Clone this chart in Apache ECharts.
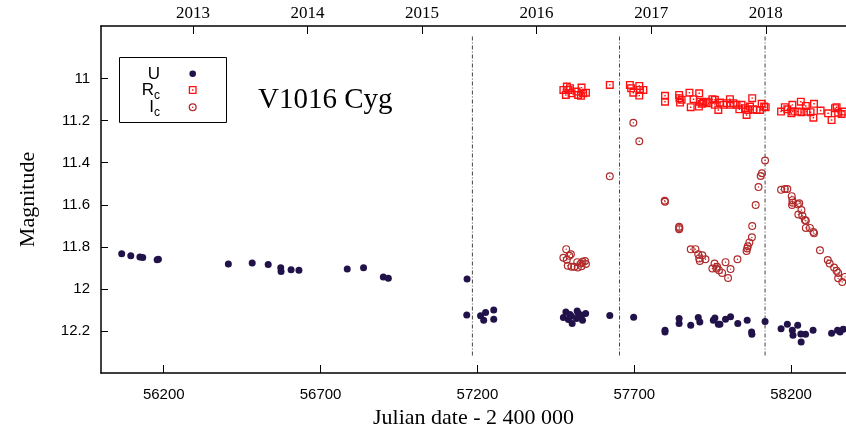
<!DOCTYPE html>
<html>
<head>
<meta charset="utf-8">
<script src="https://cdn.jsdelivr.net/npm/echarts@6/dist/echarts.min.js"></script>
<style>
html,body{margin:0;padding:0;background:#fff;}
#chart{width:846px;height:431px;}
</style>
</head>
<body>
<div id="chart"></div>
<script>
// ---- data (JD - 2400000, magnitude) ----
const uData = [
  [56066,11.833],[56095,11.843],[56124,11.849],[56133,11.851],[56179,11.862],[56183,11.859],
  [56406,11.882],[56482,11.877],[56533,11.884],[56573,11.900],[56574,11.917],[56606,11.909],[56631,11.912],
  [56785,11.906],[56837,11.900],[56900,11.943],[56916,11.950],[57167,11.953],
  [57166,12.124],[57210,12.128],[57226,12.112],[57220,12.149],[57252,12.101],[57252,12.144],
  [57474,12.136],[57482,12.110],[57490,12.146],[57495,12.122],[57500,12.130],[57502,12.165],[57516,12.141],
  [57518,12.105],[57522,12.117],[57532,12.125],[57535,12.149],[57545,12.117],[57622,12.127],[57698,12.135],
  [57798,12.197],[57798,12.205],[57843,12.141],[57843,12.165],[57880,12.173],[57904,12.136],[57909,12.157],
  [57952,12.149],[57957,12.138],[57968,12.168],[57973,12.168],[57991,12.144],[58007,12.133],[58030,12.165],
  [58060,12.149],[58074,12.205],[58075,12.216],[58117,12.155],[58168,12.190],[58188,12.168],[58204,12.197],
  [58206,12.220],[58221,12.173],[58231,12.214],[58232,12.252],[58246,12.216],[58270,12.197],[58329,12.211],
  [58348,12.197],[58356,12.205],[58366,12.192]
];
const rcData = [
  [57474,11.054],[57485,11.038],[57490,11.054],[57482,11.078],[57495,11.046],[57500,11.070],[57516,11.062],
  [57521,11.078],[57532,11.043],[57537,11.070],[57546,11.067],[57530,11.082],
  [57622,11.030],
  [57686,11.030],[57690,11.046],[57697,11.067],[57716,11.035],[57718,11.054],[57716,11.081],[57729,11.054],
  [57798,11.082],[57798,11.110],[57843,11.078],[57844,11.093],[57846,11.114],[57851,11.101],[57876,11.067],
  [57880,11.136],[57889,11.098],[57907,11.070],[57906,11.133],[57909,11.110],[57915,11.120],[57920,11.114],
  [57931,11.110],[57936,11.117],[57949,11.098],[57957,11.101],[57957,11.125],[57968,11.149],[57973,11.114],
  [57984,11.125],[57995,11.117],[58005,11.098],[58007,11.125],[58016,11.117],[58026,11.125],[58035,11.146],
  [58042,11.125],[58053,11.141],[58058,11.173],[58063,11.149],[58069,11.133],[58076,11.093],[58079,11.146],
  [58090,11.149],[58101,11.149],[58106,11.120],[58114,11.133],[58119,11.136],
  [58168,11.157],[58180,11.136],[58188,11.146],[58204,11.125],[58205,11.157],[58201,11.165],[58221,11.157],
  [58231,11.110],[58233,11.160],[58247,11.130],[58249,11.157],[58262,11.160],[58271,11.186],[58273,11.120],
  [58294,11.152],[58318,11.165],[58329,11.197],[58340,11.141],[58345,11.136],[58350,11.162],[58361,11.168],
  [58366,11.157]
];
const icData = [
  [57483,11.811],[57498,11.835],[57493,11.843],[57474,11.852],[57485,11.862],[57488,11.890],[57500,11.895],
  [57509,11.895],[57518,11.873],[57520,11.898],[57532,11.892],[57535,11.871],[57543,11.868],[57546,11.882],
  [57530,11.879],
  [57622,11.465],[57697,11.210],[57716,11.298],
  [57797,11.581],[57798,11.586],[57843,11.705],[57843,11.716],[57844,11.710],
  [57880,11.812],[57895,11.811],[57904,11.835],[57907,11.855],[57909,11.867],[57917,11.840],[57927,11.859],
  [57949,11.903],[57956,11.879],[57962,11.903],[57964,11.895],[57970,11.911],[57980,11.924],[57991,11.873],
  [57999,11.948],[58007,11.906],[58029,11.859],[58058,11.820],[58060,11.808],[58062,11.797],[58067,11.779],
  [58075,11.755],[58076,11.701],[58087,11.601],[58096,11.516],[58103,11.463],[58107,11.450],[58117,11.390],
  [58168,11.529],[58180,11.525],[58188,11.525],[58202,11.559],[58204,11.578],[58205,11.590],[58203,11.601],
  [58221,11.598],[58226,11.593],[58223,11.646],[58233,11.625],[58236,11.652],[58244,11.673],[58247,11.676],
  [58247,11.710],[58260,11.710],[58271,11.729],[58273,11.736],[58292,11.816],[58317,11.863],[58323,11.879],
  [58337,11.898],[58345,11.914],[58350,11.924],[58350,11.950],[58363,11.967],[58372,11.943]
];
const dividerJD = [57184, 57653, 58117];
const xTicks = [56200, 56700, 57200, 57700, 58200];
const yearLabels = ['2013','2014','2015','2016','2017','2018'];
const yearJD = [56293.5, 56658.5, 57023.5, 57388.5, 57754.5, 58119.5];
const yTicks = [11, 11.2, 11.4, 11.6, 11.8, 12, 12.2];

// ---- styles ----
const colU = '#22124a', colR = '#ff1010', colI = '#b02a2a';
const sqRing = 'path://M0,0L10,0L10,10L0,10Z M1.7,1.7L1.7,8.3L8.3,8.3L8.3,1.7Z M4.1,4.1L5.9,4.1L5.9,5.9L4.1,5.9Z';
const ciRing = 'path://M5,0A5,5,0,1,1,5,10A5,5,0,1,1,5,0Z M5,1.5A3.5,3.5,0,1,0,5,8.5A3.5,3.5,0,1,0,5,1.5Z M5,4.1A0.9,0.9,0,1,1,5,5.9A0.9,0.9,0,1,1,5,4.1Z';
const serif = 'Liberation Serif', sans = 'Liberation Sans';
const XMIN = 56000, XMAX = 58375, YMIN = 10.75, YMAX = 12.4;

const chart = echarts.init(document.getElementById('chart'), null, {renderer: 'canvas'});

const dividerSeries = dividerJD.map(jd => ({
  type: 'line', xAxisIndex: 0, yAxisIndex: 0, silent: true, symbol: 'none',
  data: [[jd, 10.80], [jd, 12.32]],
  lineStyle: {color: '#444', width: 1, type: [4, 2, 1, 2]}, z: 1
}));

const option = {
  animation: false,
  backgroundColor: '#fff',
  grid: {left: 101, right: 0, top: 26, bottom: 58, containLabel: false, outerBoundsMode: 'none'},
  xAxis: [{
    type: 'value', position: 'bottom', min: XMIN, max: XMAX,
    axisLine: {show: true, onZero: false, lineStyle: {color: '#000', width: 1.5}},
    axisTick: {show: true, inside: true, length: 8, customValues: xTicks, lineStyle: {color: '#000', width: 1}},
    axisLabel: {show: true, customValues: xTicks, margin: 14, color: '#000', fontFamily: sans, fontSize: 15,
                formatter: v => String(v)},
    splitLine: {show: false},
    name: 'Julian date - 2 400 000', nameLocation: 'middle', nameGap: 33,
    nameTextStyle: {fontFamily: serif, fontSize: 22, color: '#000'}
  }, {
    type: 'value', position: 'top', min: XMIN, max: XMAX,
    axisLine: {show: true, onZero: false, lineStyle: {color: '#000', width: 1.5}},
    axisTick: {show: true, inside: true, length: 8, customValues: yearJD, lineStyle: {color: '#000', width: 1}},
    axisLabel: {show: true, customValues: yearJD, margin: 4, color: '#000', fontFamily: serif, fontSize: 17,
                formatter: v => { const i = yearJD.indexOf(v); return i >= 0 ? yearLabels[i] : ''; }},
    splitLine: {show: false}
  }],
  yAxis: [{
    type: 'value', inverse: true, min: YMIN, max: YMAX,
    axisLine: {show: true, onZero: false, lineStyle: {color: '#000', width: 1.5}},
    axisTick: {show: true, inside: true, length: 7, customValues: yTicks, lineStyle: {color: '#000', width: 1}},
    axisLabel: {show: true, customValues: yTicks, margin: 11, color: '#000', fontFamily: sans, fontSize: 15,
                formatter: v => String(+(+v).toFixed(1))},
    splitLine: {show: false},
    name: 'Magnitude', nameLocation: 'middle', nameGap: 62, nameRotate: 90,
    nameTextStyle: {fontFamily: serif, fontSize: 22, color: '#000'}
  }],
  series: dividerSeries.concat([
    {name: 'Ic', type: 'scatter', data: icData, symbol: ciRing, symbolSize: 8,
     itemStyle: {color: colI, opacity: 1}, z: 3},
    {name: 'Rc', type: 'scatter', data: rcData, symbol: sqRing, symbolSize: 8,
     itemStyle: {color: colR, opacity: 1}, z: 4},
    {name: 'U', type: 'scatter', data: uData, symbol: 'circle', symbolSize: 7,
     itemStyle: {color: colU, opacity: 1}, z: 5}
  ]),
  graphic: [
    {type: 'rect', z: 10, shape: {x: 119.5, y: 57.5, width: 107, height: 65},
     style: {fill: '#fff', stroke: '#000', lineWidth: 1}},
    {type: 'text', z: 11, x: 160, y: 74,
     style: {text: 'U', font: '17px "Liberation Sans"', fill: '#000', align: 'right', verticalAlign: 'middle'}},
    {type: 'text', z: 11, x: 160, y: 90,
     style: {text: '{n|R}{s|c}', align: 'right', verticalAlign: 'middle', fill: '#000',
             rich: {n: {fontFamily: sans, fontSize: 17, lineHeight: 24, verticalAlign: 'middle', fill: '#000'},
                    s: {fontFamily: sans, fontSize: 12, lineHeight: 9, verticalAlign: 'bottom', fill: '#000'}}}},
    {type: 'text', z: 11, x: 160, y: 107,
     style: {text: '{n|I}{s|c}', align: 'right', verticalAlign: 'middle', fill: '#000',
             rich: {n: {fontFamily: sans, fontSize: 17, lineHeight: 24, verticalAlign: 'middle', fill: '#000'},
                    s: {fontFamily: sans, fontSize: 12, lineHeight: 9, verticalAlign: 'bottom', fill: '#000'}}}},
    {type: 'circle', z: 11, shape: {cx: 192.7, cy: 73.7, r: 3.3}, style: {fill: colU}},
    {type: 'rect', z: 11, shape: {x: 189.4, y: 86.7, width: 6.6, height: 6.6},
     style: {fill: 'none', stroke: colR, lineWidth: 1.3}},
    {type: 'rect', z: 11, shape: {x: 192.0, y: 89.3, width: 1.4, height: 1.4}, style: {fill: colR}},
    {type: 'circle', z: 11, shape: {cx: 192.7, cy: 107.3, r: 3.4},
     style: {fill: 'none', stroke: colI, lineWidth: 1.3}},
    {type: 'circle', z: 11, shape: {cx: 192.7, cy: 107.3, r: 0.8}, style: {fill: colI}},
    {type: 'text', z: 11, x: 258, y: 100,
     style: {text: 'V1016 Cyg', font: '29px "Liberation Serif"', fill: '#000', align: 'left', verticalAlign: 'middle'}}
  ]
};
chart.setOption(option);
</script>
</body>
</html>
